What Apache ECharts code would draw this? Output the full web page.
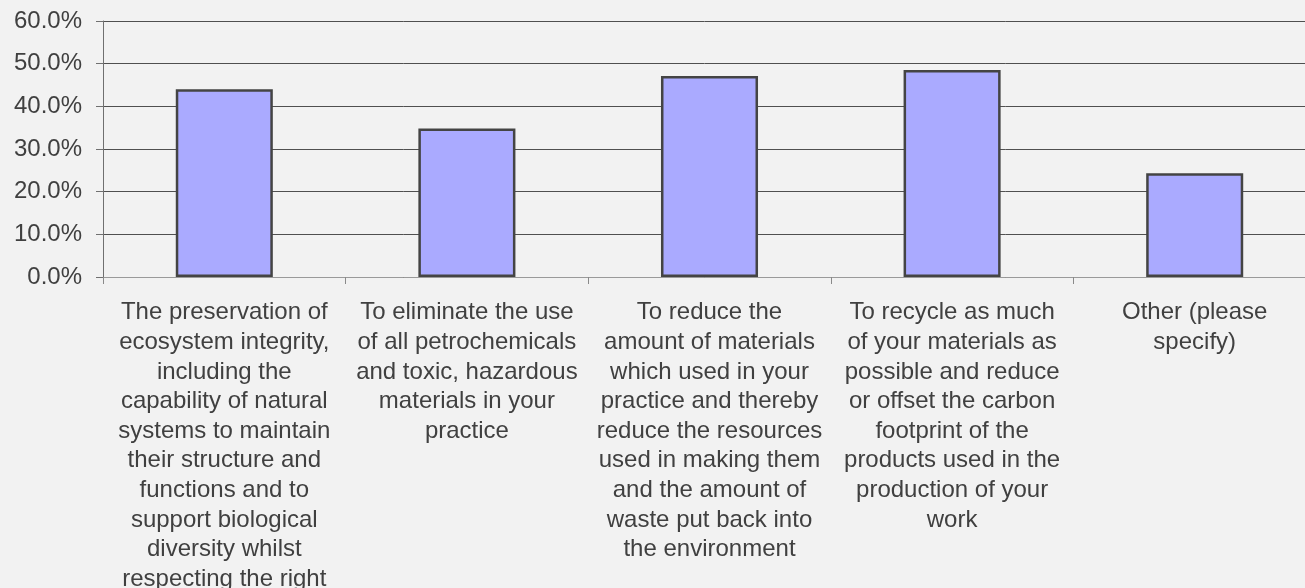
<!DOCTYPE html>
<html>
<head>
<meta charset="utf-8">
<script src="https://cdn.jsdelivr.net/npm/echarts@6/dist/echarts.min.js"></script>
<style>
  html, body { margin: 0; padding: 0; background: #f2f2f2; }
  #chart { width: 1305px; height: 588px; }
</style>
</head>
<body>
<div id="chart"></div>
<script>
  // answers, already wrapped the way the original chart wraps them
  const categories = [
    'The preservation of\necosystem integrity,\nincluding the\ncapability of natural\nsystems to maintain\ntheir structure and\nfunctions and to\nsupport biological\ndiversity whilst\nrespecting the right',
    'To eliminate the use\nof all petrochemicals\nand toxic, hazardous\nmaterials in your\npractice',
    'To reduce the\namount of materials\nwhich used in your\npractice and thereby\nreduce the resources\nused in making them\nand the amount of\nwaste put back into\nthe environment',
    'To recycle as much\nof your materials as\npossible and reduce\nor offset the carbon\nfootprint of the\nproducts used in the\nproduction of your\nwork',
    'Other (please\nspecify)'
  ]
  const percents = [44.0, 34.8, 47.1, 48.5, 24.3]

  const textColor = '#404040'
  const font = 'Arial, "Liberation Sans", sans-serif'

  const chart = echarts.init(document.getElementById('chart'))

  chart.setOption({
    backgroundColor: '#f2f2f2',
    animation: false,
    grid: {
      left: 103,
      top: 21,
      bottom: 311,
      width: 1213,
      outerBoundsMode: 'none',
      containLabel: false
    },
    xAxis: {
      type: 'category',
      data: categories,
      axisLine: { lineStyle: { color: '#9a9a9a', width: 1 } },
      axisTick: { show: true, length: 7, lineStyle: { color: '#8a8a8a' } },
      axisLabel: {
        interval: 0,
        margin: 21,
        color: textColor,
        fontFamily: font,
        fontSize: 24,
        lineHeight: 29.6,
        align: 'center'
      }
    },
    yAxis: {
      type: 'value',
      min: 0,
      max: 60,
      interval: 10,
      axisLine: { show: true, lineStyle: { color: '#707070', width: 1 } },
      axisTick: { show: true, length: 7, lineStyle: { color: '#707070' } },
      splitLine: { lineStyle: { color: '#505050', width: 1 } },
      axisLabel: {
        margin: 21,
        color: textColor,
        fontFamily: font,
        fontSize: 24,
        formatter: v => v.toFixed(1) + '%'
      }
    },
    series: [
      {
        type: 'bar',
        data: percents,
        barWidth: '40%',
        itemStyle: {
          color: '#aaaaff',
          borderColor: '#444444',
          borderWidth: 2.5
        }
      }
    ]
  })
</script>
</body>
</html>
